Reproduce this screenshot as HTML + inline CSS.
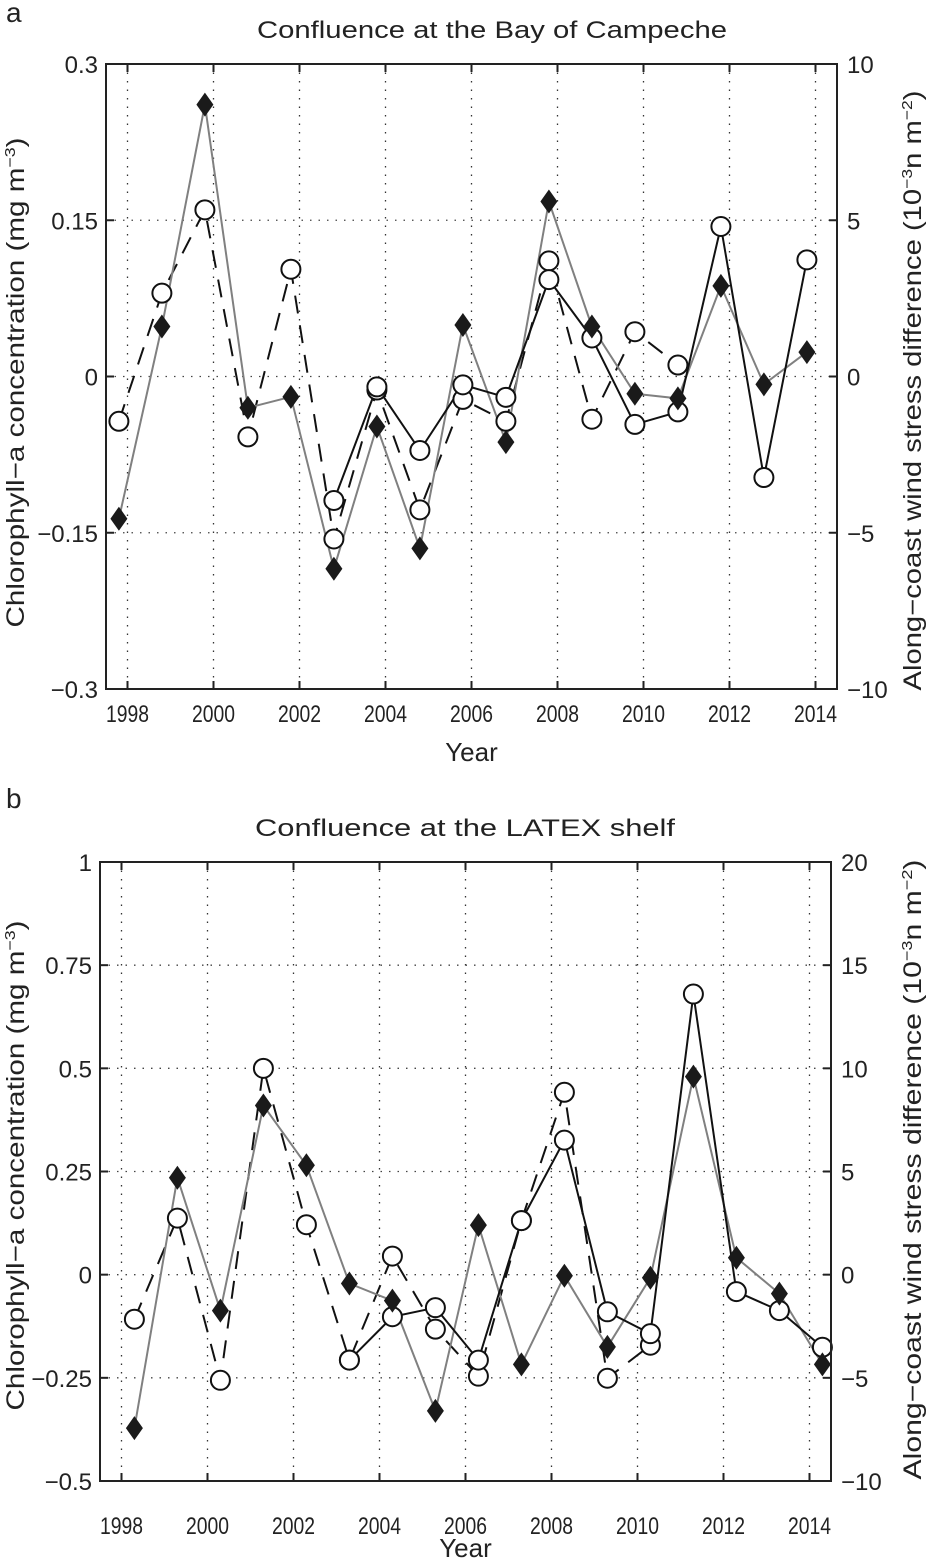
<!DOCTYPE html>
<html><head><meta charset="utf-8"><style>
html,body{margin:0;padding:0;background:#fff;}
svg{display:block;font-family:"Liberation Sans",Arial,sans-serif;}
</style></head><body>
<svg id="fig" width="930" height="1558" viewBox="0 0 930 1558" xmlns="http://www.w3.org/2000/svg"></svg>
<script>
// ---- Panel a data ----
const aWindYears = [1997.8,1998.8,1999.8,2000.8,2001.8,2002.8,2003.8,2004.8,2005.8,2006.8,2007.8,2008.8,2009.8,2010.8,2011.8,2012.8,2013.8];
const aWind = [-4.55,1.6,8.7,-1.0,-0.65,-6.15,-1.6,-5.5,1.65,-2.1,5.6,1.6,-0.55,-0.7,2.9,-0.25,0.78];
const aDashYears = [1997.8,1998.8,1999.8,2000.8,2001.8,2002.8,2003.8,2004.8,2005.8,2006.8,2007.8,2008.8,2009.8,2010.8];
const aDash = [-0.043,0.080,0.160,-0.058,0.103,-0.156,-0.013,-0.128,-0.022,-0.043,0.111,-0.041,0.043,0.011];
const aSolidYears = [2002.8,2003.8,2004.8,2005.8,2006.8,2007.8,2008.8,2009.8,2010.8,2011.8,2012.8,2013.8];
const aSolid = [-0.119,-0.010,-0.071,-0.008,-0.020,0.093,0.037,-0.046,-0.034,0.144,-0.097,0.112];
const aLeftTicks = [0.3,0.15,0,-0.15,-0.3];
const aLeftLabels = ["0.3","0.15","0","\u22120.15","\u22120.3"];
const aRightTicks = [10,5,0,-5,-10];
const aRightLabels = ["10","5","0","\u22125","\u221210"];
// ---- Panel b data ----
const bWindYears = [1998.3,1999.3,2000.3,2001.3,2002.3,2003.3,2004.3,2005.3,2006.3,2007.3,2008.3,2009.3,2010.3,2011.3,2012.3,2013.3,2014.3];
const bWind = [-7.44,4.7,-1.74,8.2,5.3,-0.43,-1.26,-6.6,2.4,-4.35,-0.05,-3.5,-0.15,9.6,0.82,-0.92,-4.35];
const bDashYears = [1998.3,1999.3,2000.3,2001.3,2002.3,2003.3,2004.3,2005.3,2006.3,2007.3,2008.3,2009.3,2010.3];
const bDash = [-0.108,0.137,-0.256,0.50,0.121,-0.207,0.045,-0.132,-0.246,0.131,0.442,-0.251,-0.171];
const bSolidYears = [2003.3,2004.3,2005.3,2006.3,2007.3,2008.3,2009.3,2010.3,2011.3,2012.3,2013.3,2014.3];
const bSolid = [-0.207,-0.102,-0.08,-0.207,0.131,0.326,-0.09,-0.143,0.68,-0.041,-0.087,-0.176];
const bLeftTicks = [1,0.75,0.5,0.25,0,-0.25,-0.5];
const bLeftLabels = ["1","0.75","0.5","0.25","0","\u22120.25","\u22120.5"];
const bRightTicks = [20,15,10,5,0,-5,-10];
const bRightLabels = ["20","15","10","5","0","\u22125","\u221210"];
const xTickYears = [1998,2000,2002,2004,2006,2008,2010,2012,2014];

const NS="http://www.w3.org/2000/svg";
const svg=document.getElementById('fig');
function mk(tag,attrs,parent){const e=document.createElementNS(NS,tag);for(const k in attrs)e.setAttribute(k,attrs[k]);(parent||svg).appendChild(e);return e;}
function txt(s,attrs,parent){const e=mk('text',attrs,parent);e.textContent=s;return e;}

function panel(cfg){
  const g=mk('g',{});
  
  
  const L=cfg.left,R=cfg.right,T=cfg.top,B=cfg.bottom;
  const x=v=>L+(v-1997.5)/(17)*(R-L);
  const yl=v=>T+(cfg.lmax-v)/(cfg.lmax-cfg.lmin)*(B-T);
  const yr=v=>T+(cfg.rmax-v)/(cfg.rmax-cfg.rmin)*(B-T);
  xTickYears.forEach(yr0=>{
    const l=mk('line',{x1:x(yr0),x2:x(yr0),y1:T,y2:B,stroke:'#333','stroke-width':1.3,'stroke-dasharray':'1.5 7'},g);
    
    
  });
  cfg.lticks.forEach(v=>{
    const l=mk('line',{x1:L,x2:R,y1:yl(v),y2:yl(v),stroke:'#444','stroke-width':1.3,'stroke-dasharray':'1.5 7'},g);
    
    
  });
  function path(xs,vs,ys){return xs.map((a,i)=>(i?'L':'M')+x(a).toFixed(1)+' '+ys(vs[i]).toFixed(1)).join(' ');}
  const pd=mk('path',{d:path(cfg.dashYears,cfg.dash,yl),fill:'none',stroke:'#111','stroke-width':2,'stroke-dasharray':'18 12'},g);
  
  
  const pw=mk('path',{d:path(cfg.windYears,cfg.wind,yr),fill:'none',stroke:'#808080','stroke-width':2},g);
  
  
  const ps=mk('path',{d:path(cfg.solidYears,cfg.solid,yl),fill:'none',stroke:'#111','stroke-width':2},g);
  
  
  cfg.dashYears.forEach((a,i)=>{
    const c=mk('circle',{cx:x(a),cy:yl(cfg.dash[i]),r:9.5,fill:'#fff',stroke:'#111','stroke-width':2},g);
    
    
  });
  cfg.solidYears.forEach((a,i)=>{
    const c=mk('circle',{cx:x(a),cy:yl(cfg.solid[i]),r:9.5,fill:'#fff',stroke:'#111','stroke-width':2},g);
    
    
  });
  cfg.windYears.forEach((a,i)=>{
    const cx=x(a),cy=yr(cfg.wind[i]);
    const d=mk('path',{d:`M${cx} ${cy-12} L${cx+8.5} ${cy} L${cx} ${cy+12} L${cx-8.5} ${cy} Z`,fill:'#1a1a1a'},g);
    
    
  });
  const fr=mk('rect',{x:L,y:T,width:R-L,height:B-T,fill:'none',stroke:'#222','stroke-width':2},g);
  
  
  xTickYears.forEach(yr0=>{
    mk('line',{x1:x(yr0),x2:x(yr0),y1:B,y2:B-8,stroke:'#222','stroke-width':2},g);
    mk('line',{x1:x(yr0),x2:x(yr0),y1:T,y2:T+8,stroke:'#222','stroke-width':2},g);
    const t=txt(String(yr0),{x:x(yr0),y:cfg.xLabelY,'text-anchor':'middle','font-size':24,fill:'#222',textLength:43,lengthAdjust:'spacingAndGlyphs'},g);
    
    
  });
  cfg.lticks.forEach((v,i)=>{
    mk('line',{x1:L,x2:L+8,y1:yl(v),y2:yl(v),stroke:'#222','stroke-width':2},g);
    const t=txt(cfg.llabels[i],{x:L-8,y:yl(v)+9,'text-anchor':'end','font-size':24,fill:'#222'},g);
    
    
  });
  cfg.rticks.forEach((v,i)=>{
    mk('line',{x1:R,x2:R-8,y1:yr(v),y2:yr(v),stroke:'#222','stroke-width':2},g);
    const t=txt(cfg.rlabels[i],{x:R+10,y:yr(v)+9,'text-anchor':'start','font-size':24,fill:'#222'},g);
    
    
  });
  const pl=txt(cfg.letter,{x:cfg.letterX,y:cfg.letterY,'font-size':28,fill:'#222'},g);
  
  
  const tt=txt(cfg.title,{x:cfg.titleX,y:cfg.titleY,'text-anchor':'middle','font-size':24,fill:'#222',textLength:cfg.titleLen,lengthAdjust:'spacingAndGlyphs'},g);
  
  
  const xt=txt('Year',{x:(L+R)/2,y:cfg.yearY,'text-anchor':'middle','font-size':26,fill:'#222'},g);
  
  
  const lc=(T+B)/2+cfg.lLabelShift;
  const ly=mk('text',{x:0,y:0,transform:`translate(24 ${lc}) rotate(-90)`,'text-anchor':'middle','font-size':25,fill:'#222',textLength:cfg.lLabelLen,lengthAdjust:'spacingAndGlyphs'},g);
  ly.innerHTML='Chlorophyll\u2212a concentration (mg m<tspan font-size="15" dy="-9">\u22123</tspan><tspan dy="9">)</tspan>';
  
  
  const rc=(T+B)/2+cfg.rLabelShift;
  const ry=mk('text',{x:0,y:0,transform:`translate(921 ${rc}) rotate(-90)`,'text-anchor':'middle','font-size':25,fill:'#222',textLength:cfg.rLabelLen,lengthAdjust:'spacingAndGlyphs'},g);
  ry.innerHTML='Along\u2212coast wind stress difference (10<tspan font-size="15" dy="-9">\u22123</tspan><tspan dy="9">n m</tspan><tspan font-size="15" dy="-9">\u22122</tspan><tspan dy="9">)</tspan>';
  
  
}

panel({name:'panel-a',left:106,right:837,top:64,bottom:689,lmax:0.3,lmin:-0.3,rmax:10,rmin:-10,
  windYears:aWindYears,wind:aWind,dashYears:aDashYears,dash:aDash,solidYears:aSolidYears,solid:aSolid,
  lticks:aLeftTicks,llabels:aLeftLabels,rticks:aRightTicks,rlabels:aRightLabels,
  xLabelY:722,yearY:761,letter:'a',letterX:6,letterY:22,title:'Confluence at the Bay of Campeche',titleX:492,titleY:38,titleLen:470,
  lLabelShift:6,lLabelLen:490,rLabelShift:14,rLabelLen:600});
panel({name:'panel-b',left:100,right:831,top:862,bottom:1481,lmax:1,lmin:-0.5,rmax:20,rmin:-10,
  windYears:bWindYears,wind:bWind,dashYears:bDashYears,dash:bDash,solidYears:bSolidYears,solid:bSolid,
  lticks:bLeftTicks,llabels:bLeftLabels,rticks:bRightTicks,rlabels:bRightLabels,
  xLabelY:1534,yearY:1557,letter:'b',letterX:6,letterY:808,title:'Confluence at the LATEX shelf',titleX:465,titleY:836,titleLen:420,
  lLabelShift:-6,lLabelLen:490,rLabelShift:-2,rLabelLen:620});
</script>
</body></html>
